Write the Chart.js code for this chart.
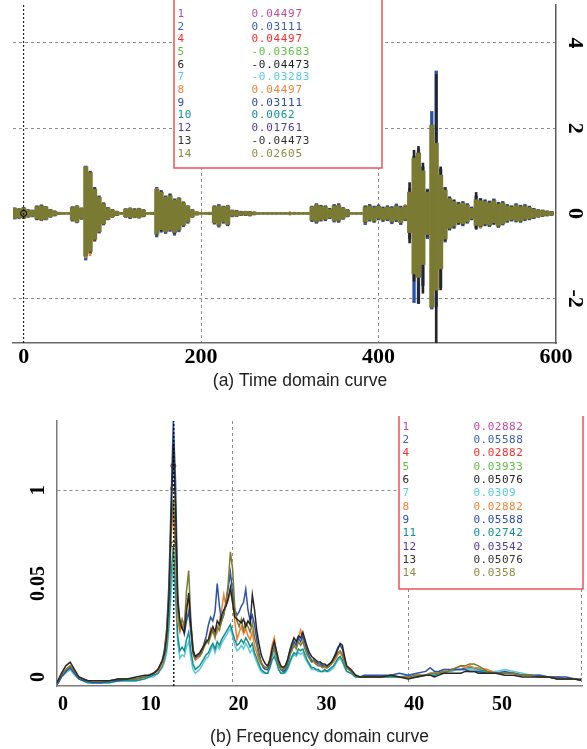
<!DOCTYPE html>
<html><head><meta charset="utf-8">
<script src="https://cdn.jsdelivr.net/npm/chart.js@4.4.0/dist/chart.umd.min.js"></script>
<style>
html,body{margin:0;padding:0;background:#fff;}
#wrap{position:relative;width:587px;height:749px;overflow:hidden;background:#fff;}
canvas{position:absolute;left:0;}
#c1{top:0;} #c2{top:416px;}
</style></head><body>
<div id="wrap"><canvas id="c1" width="587" height="416"></canvas><canvas id="c2" width="587" height="333"></canvas></div>
<script>
// ---------- (a) time domain ----------
const TITLE_A = "(a) Time domain curve";
const X1_TICKS = [0, 200, 400, 600];
const Y1_TICKS = [-2, 0, 2, 4];
const X1_MIN = -12, X1_MAX = 600, Y1_MIN = -3.04, Y1_MAX = 4.89;
const CURSOR_T = 0, CURSOR_T_Y = 0;
const T_BINS = [-10,-5,0,5,10,15,20,25,30,35,40,45,50,55,60,65,70,75,80,85,90,95,100,105,110,115,120,125,130,135,140,145,150,155,160,165,170,175,180,185,190,195,200,205,210,215,220,225,230,235,240,245,250,255,260,265,270,275,280,285,290,295,300,305,310,315,320,325,330,335,340,345,350,355,360,365,370,375,380,385,390,395,400,405,410,415,420,425,430,435,440,445,450,455,460,465,470,475,480,485,490,495,500,505,510,515,520,525,530,535,540,545,550,555,560,565,570,575,580,585,590,595];
const S14_HI = [
0.12,0.10,0.13,0.08,0.07,0.16,0.18,0.15,0.09,0.05,
0.03,0.02,0.02,0.14,0.17,0.12,1.10,0.96,0.57,0.38,
0.23,0.13,0.08,0.05,0.02,0.10,0.12,0.09,0.11,0.08,
0.02,0.03,0.57,0.50,0.38,0.42,0.31,0.35,0.25,0.17,
0.08,0.04,0.02,0.02,0.03,0.16,0.18,0.15,0.17,0.07,
0.06,0.04,0.05,0.04,0.03,0.02,0.02,0.02,0.02,0.02,
0.02,0.02,0.02,0.02,0.02,0.02,0.02,0.15,0.20,0.17,
0.16,0.10,0.18,0.19,0.12,0.08,0.02,0.02,0.02,0.15,
0.18,0.14,0.17,0.12,0.15,0.13,0.18,0.14,0.16,0.50,
1.30,1.42,1.00,0.50,2.07,1.65,0.90,0.55,0.35,0.28,
0.22,0.25,0.20,0.12,0.32,0.30,0.28,0.25,0.30,0.22,
0.25,0.18,0.15,0.20,0.16,0.18,0.14,0.10,0.08,0.07,0.05,0.04];
const S14_LO = [
-0.12,-0.10,-0.11,-0.08,-0.07,-0.13,-0.15,-0.14,-0.08,-0.05,
-0.03,-0.02,-0.02,-0.16,-0.20,-0.12,-1.00,-0.89,-0.61,-0.43,
-0.24,-0.14,-0.08,-0.05,-0.02,-0.08,-0.10,-0.09,-0.10,-0.07,
-0.02,-0.03,-0.49,-0.38,-0.43,-0.38,-0.45,-0.38,-0.28,-0.20,
-0.08,-0.04,-0.02,-0.02,-0.03,-0.22,-0.28,-0.20,-0.26,-0.07,
-0.06,-0.04,-0.04,-0.05,-0.03,-0.02,-0.02,-0.02,-0.02,-0.02,
-0.02,-0.02,-0.02,-0.02,-0.02,-0.02,-0.02,-0.16,-0.20,-0.15,
-0.14,-0.10,-0.17,-0.18,-0.12,-0.07,-0.02,-0.02,-0.02,-0.20,
-0.15,-0.18,-0.12,-0.16,-0.14,-0.20,-0.16,-0.22,-0.14,-0.45,
-1.42,-1.50,-1.20,-0.50,-2.20,-1.80,-1.30,-0.60,-0.35,-0.30,
-0.22,-0.25,-0.20,-0.12,-0.28,-0.30,-0.25,-0.28,-0.22,-0.30,
-0.24,-0.18,-0.15,-0.17,-0.18,-0.14,-0.13,-0.10,-0.08,-0.06,-0.05,-0.04];
const S6_HI = [
0.13,0.12,0.14,0.09,0.08,0.17,0.20,0.16,0.10,0.06,
0.03,0.02,0.02,0.15,0.18,0.13,1.05,0.98,0.60,0.40,
0.25,0.14,0.09,0.06,0.02,0.11,0.13,0.11,0.12,0.09,
0.02,0.03,0.55,0.52,0.40,0.45,0.33,0.36,0.27,0.18,
0.09,0.04,0.02,0.02,0.03,0.17,0.19,0.16,0.18,0.08,
0.07,0.05,0.05,0.05,0.04,0.02,0.02,0.02,0.02,0.02,
0.02,0.02,0.02,0.02,0.02,0.02,0.02,0.16,0.21,0.19,
0.17,0.12,0.20,0.21,0.13,0.09,0.02,0.02,0.02,0.17,
0.20,0.16,0.19,0.14,0.17,0.15,0.20,0.16,0.18,0.73,
1.49,1.58,1.19,0.55,1.90,3.27,1.10,0.60,0.38,0.31,
0.25,0.27,0.22,0.14,0.50,0.35,0.31,0.28,0.33,0.25,
0.27,0.20,0.17,0.22,0.18,0.20,0.16,0.12,0.09,0.08,0.06,0.05];
const S6_LO = [
-0.13,-0.12,-0.12,-0.09,-0.08,-0.15,-0.16,-0.15,-0.09,-0.06,
-0.03,-0.02,-0.02,-0.17,-0.21,-0.13,-1.00,-0.92,-0.64,-0.45,
-0.26,-0.15,-0.09,-0.06,-0.02,-0.09,-0.12,-0.10,-0.11,-0.08,
-0.02,-0.03,-0.52,-0.42,-0.45,-0.40,-0.48,-0.40,-0.30,-0.22,
-0.09,-0.04,-0.02,-0.02,-0.03,-0.24,-0.30,-0.22,-0.28,-0.08,
-0.07,-0.05,-0.05,-0.06,-0.04,-0.02,-0.02,-0.02,-0.02,-0.02,
-0.02,-0.02,-0.02,-0.02,-0.02,-0.02,-0.02,-0.18,-0.22,-0.17,
-0.16,-0.12,-0.19,-0.20,-0.13,-0.08,-0.02,-0.02,-0.02,-0.22,
-0.17,-0.20,-0.14,-0.18,-0.16,-0.22,-0.18,-0.24,-0.16,-0.70,
-1.60,-2.12,-1.88,-0.55,-2.00,-3.10,-1.80,-0.65,-0.38,-0.33,
-0.25,-0.28,-0.22,-0.14,-0.38,-0.32,-0.28,-0.30,-0.25,-0.32,
-0.26,-0.20,-0.17,-0.19,-0.20,-0.16,-0.15,-0.12,-0.09,-0.07,-0.06,-0.05];
const S2_HI = [
0.14,0.11,0.15,0.10,0.09,0.19,0.21,0.17,0.10,0.07,
0.03,0.02,0.02,0.17,0.19,0.14,1.12,1.00,0.62,0.42,
0.26,0.15,0.10,0.06,0.02,0.12,0.14,0.12,0.13,0.10,
0.02,0.03,0.62,0.55,0.42,0.47,0.35,0.38,0.28,0.19,
0.10,0.04,0.02,0.02,0.03,0.19,0.22,0.18,0.20,0.09,
0.08,0.06,0.06,0.05,0.04,0.02,0.02,0.02,0.02,0.02,
0.02,0.02,0.02,0.02,0.02,0.02,0.02,0.18,0.24,0.20,
0.19,0.13,0.22,0.24,0.15,0.10,0.02,0.02,0.02,0.19,
0.22,0.18,0.21,0.16,0.19,0.17,0.23,0.18,0.20,0.60,
1.35,1.50,1.10,0.58,2.40,3.35,1.05,0.62,0.40,0.33,
0.27,0.29,0.24,0.16,0.42,0.36,0.33,0.30,0.35,0.27,
0.29,0.22,0.19,0.24,0.20,0.22,0.18,0.13,0.10,0.09,0.07,0.05];
const S2_LO = [
-0.14,-0.12,-0.13,-0.10,-0.09,-0.16,-0.18,-0.16,-0.10,-0.07,
-0.03,-0.02,-0.02,-0.19,-0.23,-0.15,-1.10,-0.95,-0.66,-0.47,
-0.28,-0.16,-0.10,-0.06,-0.02,-0.10,-0.13,-0.11,-0.12,-0.09,
-0.02,-0.03,-0.56,-0.45,-0.48,-0.43,-0.52,-0.44,-0.32,-0.24,
-0.10,-0.04,-0.02,-0.02,-0.03,-0.26,-0.33,-0.24,-0.30,-0.09,
-0.08,-0.06,-0.06,-0.07,-0.04,-0.02,-0.02,-0.02,-0.02,-0.02,
-0.02,-0.02,-0.02,-0.02,-0.02,-0.02,-0.02,-0.20,-0.24,-0.19,
-0.18,-0.13,-0.21,-0.22,-0.15,-0.09,-0.02,-0.02,-0.02,-0.27,
-0.19,-0.22,-0.16,-0.20,-0.18,-0.25,-0.20,-0.27,-0.18,-0.60,
-2.10,-2.12,-1.70,-0.60,-2.25,-2.20,-1.75,-0.68,-0.40,-0.36,
-0.27,-0.30,-0.24,-0.16,-0.36,-0.34,-0.30,-0.32,-0.27,-0.34,
-0.28,-0.22,-0.19,-0.21,-0.22,-0.18,-0.16,-0.13,-0.10,-0.08,-0.07,-0.05];
const S8_HI = [
0.13,0.10,0.14,0.09,0.08,0.18,0.19,0.16,0.09,0.06,
0.03,0.02,0.02,0.16,0.18,0.13,1.00,0.95,0.60,0.40,
0.24,0.14,0.09,0.05,0.02,0.11,0.13,0.10,0.12,0.09,
0.02,0.03,0.59,0.52,0.40,0.44,0.33,0.37,0.26,0.18,
0.09,0.04,0.02,0.02,0.03,0.18,0.20,0.16,0.19,0.08,
0.07,0.05,0.05,0.05,0.04,0.02,0.02,0.02,0.02,0.02,
0.02,0.02,0.05,0.02,0.02,0.02,0.02,0.16,0.22,0.18,
0.17,0.11,0.20,0.21,0.13,0.09,0.02,0.02,0.02,0.16,
0.20,0.15,0.19,0.13,0.17,0.14,0.20,0.15,0.22,0.55,
1.40,1.52,1.05,0.52,2.05,1.75,0.95,0.58,0.37,0.30,
0.24,0.27,0.22,0.13,0.36,0.32,0.30,0.27,0.33,0.24,
0.27,0.19,0.16,0.21,0.17,0.19,0.15,0.11,0.09,0.08,0.06,0.04];
const S8_LO = [
-0.13,-0.11,-0.12,-0.09,-0.08,-0.14,-0.17,-0.15,-0.09,-0.06,
-0.03,-0.02,-0.02,-0.17,-0.22,-0.13,-1.05,-1.00,-0.66,-0.45,
-0.26,-0.15,-0.09,-0.05,-0.02,-0.09,-0.11,-0.10,-0.11,-0.08,
-0.02,-0.03,-0.52,-0.40,-0.46,-0.40,-0.48,-0.40,-0.30,-0.22,
-0.09,-0.04,-0.02,-0.02,-0.03,-0.25,-0.30,-0.22,-0.28,-0.08,
-0.07,-0.05,-0.05,-0.06,-0.04,-0.02,-0.02,-0.02,-0.02,-0.02,
-0.02,-0.02,-0.05,-0.02,-0.02,-0.02,-0.02,-0.17,-0.22,-0.17,
-0.15,-0.11,-0.19,-0.20,-0.13,-0.08,-0.02,-0.02,-0.02,-0.23,
-0.17,-0.20,-0.13,-0.18,-0.15,-0.22,-0.17,-0.24,-0.15,-0.50,
-1.50,-1.70,-1.45,-0.55,-2.10,-1.90,-1.80,-0.65,-0.37,-0.32,
-0.24,-0.27,-0.22,-0.13,-0.30,-0.36,-0.27,-0.30,-0.24,-0.33,
-0.26,-0.20,-0.16,-0.19,-0.20,-0.15,-0.14,-0.11,-0.09,-0.07,-0.06,-0.05];
const LEG_A_NAMES = ["1","2","4","5","6","7","8","9","10","12","13","14"];
const LEG_A_VALUES = [0.04497,0.03111,0.04497,-0.03683,-0.04473,-0.03283,0.04497,0.03111,0.0062,0.01761,-0.04473,0.02605];

// ---------- (b) frequency domain ----------
const TITLE_B = "(b) Frequency domain curve";
const X2_TICKS = [0, 10, 20, 30, 40, 50];
const Y2_TICKS = [0, 0.05, 0.1];
const Y2_LABELS = ["0", "0.05", "1"];
const X2_MIN = 0, X2_MAX = 59.8, Y2_MIN = -0.0048, Y2_MAX = 0.137;
const CURSOR_F = 13.3;
const CURSOR_F_MARKS = [0.113, 0.101, 0.071];
const FREQ = [0,0.5,1,1.5,2,2.5,3,3.5,4,5,6,7,8,9,10,10.5,11,11.5,12,
12.25,12.5,12.75,13,13.25,13.5,13.75,14,14.25,14.5,14.75,15,15.25,15.5,15.75,16,16.25,16.5,16.75,17,17.25,17.5,17.75,18,18.25,18.5,18.75,19,19.25,19.5,19.75,20,20.25,20.5,20.75,21,21.25,21.5,21.75,22,22.25,22.5,22.75,23,23.25,23.5,23.75,24,24.25,24.5,24.75,25,25.25,25.5,25.75,26,26.25,26.5,26.75,27,27.25,27.5,27.75,28,28.25,28.5,28.75,29,29.25,29.5,29.75,30,30.25,30.5,30.75,31,31.25,31.5,31.75,32,32.25,32.5,32.75,33,
33.5,34,34.5,35,36,37,38,39,40,41,42,42.5,43,43.5,44,44.5,45,45.5,46,46.5,47,47.5,48,49,50,51,52,53,54,55,56,57,58,59,60];
const F14 = [-0.003,0.001,0.004,0.006,0.003,0.000,-0.001,-0.002,-0.002,-0.002,-0.002,-0.001,-0.001,-0.001,0.000,0.001,0.002,0.004,0.008,
0.014,0.024,0.045,0.080,0.095,0.072,0.036,0.026,0.031,0.027,0.046,0.057,0.030,0.015,0.010,0.012,0.011,0.013,0.016,0.020,0.018,0.022,0.025,0.021,0.027,0.025,0.030,0.033,0.040,0.050,0.067,0.058,0.037,0.030,0.027,0.031,0.025,0.029,0.027,0.024,0.029,0.021,0.017,0.011,0.008,0.006,0.005,0.005,0.008,0.013,0.015,0.011,0.007,0.004,0.004,0.005,0.008,0.012,0.014,0.017,0.015,0.019,0.017,0.019,0.015,0.012,0.010,0.008,0.009,0.007,0.006,0.006,0.005,0.006,0.005,0.006,0.007,0.009,0.011,0.013,0.014,0.012,0.008,0.005,
0.003,0.001,0.000,0.000,0.000,0.000,0.001,0.000,0.000,0.001,0.001,0.002,0.002,0.002,0.003,0.003,0.004,0.005,0.006,0.006,0.007,0.007,0.006,0.003,0.002,0.002,0.002,0.001,0.001,0.000,0.000,-0.001,-0.001,-0.001,-0.002];
const F6 = [-0.003,0.002,0.006,0.008,0.004,0.000,-0.001,-0.002,-0.002,-0.002,-0.002,-0.001,-0.001,0.000,0.001,0.001,0.002,0.004,0.009,
0.013,0.022,0.042,0.085,0.125,0.090,0.040,0.030,0.026,0.024,0.035,0.045,0.028,0.014,0.011,0.012,0.013,0.015,0.017,0.019,0.020,0.024,0.027,0.024,0.030,0.028,0.033,0.036,0.038,0.042,0.048,0.040,0.032,0.031,0.030,0.029,0.031,0.027,0.030,0.028,0.044,0.036,0.025,0.018,0.012,0.009,0.007,0.006,0.009,0.015,0.019,0.014,0.009,0.006,0.005,0.006,0.009,0.014,0.018,0.021,0.019,0.022,0.021,0.024,0.020,0.016,0.013,0.011,0.010,0.009,0.008,0.008,0.007,0.007,0.006,0.007,0.008,0.010,0.012,0.015,0.018,0.017,0.011,0.006,
0.004,0.001,0.000,0.000,0.000,0.000,0.001,0.000,-0.001,0.000,0.001,0.001,0.000,0.001,0.002,0.002,0.002,0.002,0.002,0.003,0.003,0.003,0.002,0.002,0.002,0.001,0.001,0.000,0.000,0.000,0.000,-0.001,-0.001,-0.001,-0.002];
const F2 = [-0.004,0.000,0.003,0.005,0.002,-0.001,-0.002,-0.002,-0.003,-0.003,-0.002,-0.002,-0.001,-0.001,0.000,0.001,0.002,0.004,0.009,
0.015,0.026,0.050,0.095,0.137,0.105,0.045,0.028,0.027,0.023,0.030,0.035,0.024,0.013,0.010,0.011,0.012,0.014,0.018,0.022,0.028,0.032,0.030,0.035,0.050,0.038,0.030,0.034,0.040,0.048,0.056,0.045,0.036,0.033,0.035,0.038,0.040,0.047,0.036,0.030,0.033,0.028,0.020,0.013,0.008,0.005,0.004,0.004,0.007,0.012,0.016,0.012,0.007,0.004,0.003,0.004,0.007,0.011,0.016,0.019,0.017,0.021,0.019,0.022,0.018,0.014,0.011,0.009,0.009,0.008,0.007,0.007,0.006,0.006,0.005,0.006,0.008,0.010,0.013,0.016,0.017,0.015,0.010,0.005,
0.003,0.001,0.000,0.001,0.001,0.001,0.001,0.002,0.001,0.002,0.003,0.005,0.003,0.003,0.004,0.004,0.004,0.004,0.004,0.004,0.003,0.003,0.003,0.002,0.002,0.003,0.002,0.001,0.001,0.001,0.000,0.000,0.000,-0.001,-0.001];
const F8 = [-0.003,0.001,0.004,0.006,0.003,0.000,-0.001,-0.002,-0.002,-0.002,-0.002,-0.001,-0.001,-0.001,0.000,0.001,0.002,0.003,0.007,
0.012,0.020,0.040,0.075,0.090,0.065,0.030,0.024,0.028,0.026,0.038,0.042,0.025,0.012,0.009,0.010,0.011,0.013,0.016,0.018,0.020,0.026,0.024,0.022,0.024,0.030,0.036,0.044,0.038,0.041,0.046,0.040,0.030,0.020,0.024,0.027,0.023,0.026,0.022,0.020,0.024,0.017,0.013,0.009,0.007,0.006,0.005,0.006,0.010,0.017,0.021,0.013,0.008,0.005,0.005,0.006,0.009,0.013,0.016,0.018,0.017,0.021,0.025,0.020,0.016,0.012,0.010,0.008,0.008,0.007,0.006,0.006,0.006,0.005,0.005,0.006,0.007,0.008,0.010,0.012,0.013,0.011,0.008,0.005,
0.003,0.001,0.000,0.000,0.000,0.000,0.001,0.000,0.000,0.001,0.001,0.002,0.002,0.002,0.003,0.003,0.004,0.005,0.006,0.005,0.006,0.005,0.005,0.004,0.002,0.002,0.002,0.001,0.001,0.000,0.000,0.000,-0.001,-0.001,-0.002];
const F11 = [-0.004,0.000,0.003,0.005,0.002,-0.001,-0.002,-0.003,-0.003,-0.003,-0.003,-0.002,-0.002,-0.002,-0.001,0.000,0.001,0.002,0.006,
0.010,0.016,0.030,0.055,0.070,0.050,0.022,0.014,0.016,0.014,0.020,0.024,0.014,0.007,0.004,0.005,0.006,0.008,0.010,0.012,0.013,0.016,0.018,0.015,0.019,0.017,0.020,0.022,0.024,0.026,0.028,0.024,0.020,0.017,0.018,0.020,0.018,0.021,0.019,0.016,0.018,0.013,0.010,0.007,0.004,0.003,0.002,0.002,0.005,0.009,0.011,0.008,0.004,0.002,0.002,0.003,0.005,0.008,0.011,0.013,0.012,0.015,0.014,0.015,0.012,0.009,0.007,0.005,0.005,0.004,0.004,0.003,0.003,0.004,0.003,0.004,0.005,0.006,0.008,0.010,0.011,0.009,0.006,0.003,
0.002,0.000,0.000,0.000,0.000,0.000,0.000,0.000,0.000,0.000,0.001,0.001,0.001,0.002,0.002,0.003,0.004,0.004,0.004,0.005,0.005,0.005,0.004,0.003,0.002,0.002,0.002,0.001,0.001,0.000,0.000,-0.001,-0.001,-0.001,-0.002];
const F7 = [-0.004,0.000,0.002,0.004,0.001,-0.001,-0.002,-0.003,-0.003,-0.003,-0.003,-0.002,-0.002,-0.002,-0.001,0.000,0.000,0.002,0.005,
0.008,0.013,0.025,0.045,0.060,0.042,0.018,0.010,0.012,0.011,0.016,0.019,0.010,0.004,0.002,0.003,0.004,0.006,0.008,0.010,0.011,0.014,0.017,0.013,0.017,0.015,0.018,0.020,0.022,0.024,0.026,0.022,0.017,0.014,0.015,0.017,0.015,0.018,0.016,0.013,0.015,0.011,0.008,0.005,0.003,0.002,0.002,0.002,0.006,0.011,0.013,0.009,0.004,0.002,0.002,0.002,0.004,0.007,0.010,0.012,0.011,0.013,0.012,0.013,0.010,0.008,0.006,0.004,0.004,0.004,0.003,0.003,0.003,0.003,0.003,0.003,0.004,0.005,0.007,0.009,0.010,0.008,0.005,0.003,
0.002,0.000,0.000,0.000,0.000,0.000,0.000,0.000,0.001,0.001,0.001,0.001,0.002,0.002,0.003,0.003,0.003,0.004,0.004,0.004,0.004,0.004,0.003,0.003,0.003,0.004,0.003,0.002,0.001,0.001,0.000,0.000,-0.001,-0.001,-0.002];
const LEG_B_NAMES = ["1","2","4","5","6","7","8","9","11","12","13","14"];
const LEG_B_VALUES = [0.02882,0.05588,0.02882,0.03933,0.05076,0.0309,0.02882,0.05588,0.02742,0.03542,0.05076,0.0358];

// ---------- styles ----------
const LEG_COLORS = ['#c8489e','#3a5fb5','#ff2b2b','#62c043','#1e1e1e','#58c8e0','#f5823a','#2a4ca8','#12908c','#4b3c9e','#333333','#8c8c44'];
const C_OLIVE = '#7b7a33', C_BLACK = '#262626', C_BLUE = '#2c52a8', C_ORANGE = '#f07f2e', C_TEAL = '#12908c', C_CYAN = '#5cc8da';
const SERIF = 'Liberation Serif';
const GRID_C = '#8c8c8c';

function envelope(label, hi, lo, color, width) {
  return { type: 'bar', label, data: T_BINS.map((t, i) => ({ x: t, y: [lo[i], hi[i]] })),
    backgroundColor: color, borderWidth: 0, barPercentage: width, categoryPercentage: 1, grouped: false };
}
function spec(label, ys, color) {
  return { label, data: FREQ.map((f, i) => ({ x: f, y: ys[i] })), borderColor: color,
    borderWidth: 1.5, pointRadius: 0, fill: false, tension: 0 };
}
function noPad(s) { s.paddingTop = 0; s.paddingBottom = 0; s.paddingLeft = 0; s.paddingRight = 0; }
function tablePlugin(id, cfg) {
  return { id, afterDraw(chart) {
    const ctx = chart.ctx; ctx.save();
    ctx.fillStyle = '#fff'; ctx.fillRect(cfg.x, cfg.y, cfg.w, cfg.h);
    ctx.strokeStyle = '#f0505a'; ctx.lineWidth = 1.5; ctx.strokeRect(cfg.x, cfg.y, cfg.w, cfg.h);
    ctx.font = cfg.font; try { ctx.letterSpacing = cfg.spacing; } catch (e) {}
    ctx.textBaseline = 'middle'; ctx.textAlign = 'left';
    cfg.names.forEach((n, i) => {
      const y = cfg.row0 + i * cfg.step;
      ctx.fillStyle = LEG_COLORS[i];
      ctx.fillText(n, cfg.nameX, y);
      ctx.fillText(String(cfg.values[i]), cfg.valueX, y);
    });
    ctx.restore();
  }};
}
const frameRight = { id: 'frameRight', afterDatasetsDraw(chart) {
  const { ctx, chartArea: a } = chart; ctx.save();
  ctx.strokeStyle = GRID_C; ctx.lineWidth = 1; ctx.setLineDash([3, 3]);
  ctx.beginPath(); ctx.moveTo(a.right - 0.5, a.top); ctx.lineTo(a.right - 0.5, a.bottom); ctx.stroke();
  ctx.restore();
}};

// ---------- chart (a) ----------
new Chart(document.getElementById('c1'), {
  type: 'bar',
  data: { datasets: [
    { type: 'line', label: 'cursor', data: [{ x: CURSOR_T, y: Y1_MIN }, { x: CURSOR_T, y: Y1_MAX }],
      borderColor: '#000', borderWidth: 1, borderDash: [2, 2], pointRadius: 0, order: -2 },
    { type: 'line', label: 'mark', data: [{ x: CURSOR_T, y: CURSOR_T_Y }], showLine: false,
      pointRadius: 3, borderColor: '#000', borderWidth: 1, backgroundColor: 'rgba(0,0,0,0)', order: -1 },
    envelope('14', S14_HI, S14_LO, C_OLIVE, 1),
    envelope('6', S6_HI, S6_LO, C_BLACK, 0.6),
    envelope('8', S8_HI, S8_LO, C_ORANGE, 0.5),
    envelope('2', S2_HI, S2_LO, C_BLUE, 0.75)
  ]},
  options: {
    responsive: false, animation: false, devicePixelRatio: 1,
    layout: { padding: { left: 13, right: 0, top: 0, bottom: 0 } },
    plugins: { legend: { display: false }, tooltip: { enabled: false },
      title: { display: true, position: 'bottom', text: TITLE_A, color: '#222',
        font: { family: 'Liberation Sans', size: 17.5, weight: 'normal', lineHeight: 1.2 },
        padding: { top: 4, bottom: 24.5 } } },
    scales: {
      x: { type: 'linear', min: X1_MIN, max: X1_MAX, offset: false,
        afterBuildTicks: s => { s.ticks = X1_TICKS.map(v => ({ value: v })); },
        afterFit: s => { s.height = 23.5; noPad(s); },
        grid: { offset: false, drawTicks: false, lineWidth: 1,
          color: c => (c.tick && (c.tick.value === 200 || c.tick.value === 400)) ? GRID_C : 'rgba(0,0,0,0)' },
        border: { display: true, color: '#6a6a6a', width: 1.5, dash: [3, 3] },
        ticks: { color: '#000', padding: 3, maxRotation: 0, autoSkip: false,
          font: { family: SERIF, weight: 'bold', size: 22, lineHeight: 1 } } },
      y: { position: 'right', min: Y1_MIN, max: Y1_MAX,
        afterBuildTicks: s => { s.ticks = Y1_TICKS.map(v => ({ value: v })); },
        afterFit: s => { s.width = 31; noPad(s); },
        grid: { drawTicks: false, lineWidth: 1,
          color: c => (c.tick && c.tick.value !== 0) ? GRID_C : 'rgba(0,0,0,0)' },
        border: { display: true, color: '#5a5a5a', width: 1.5, dash: [3, 3] },
        ticks: { color: '#000', padding: 10, minRotation: -90, maxRotation: -90, crossAlign: 'center',
          font: { family: SERIF, weight: 'bold', size: 22, lineHeight: 1 } } }
    }
  },
  plugins: [tablePlugin('tableA', { x: 174, y: -5, w: 208, h: 173, names: LEG_A_NAMES, values: LEG_A_VALUES,
    row0: 14, step: 12.7, nameX: 177.5, valueX: 251.5, font: '11px "DejaVu Sans Mono"', spacing: '0.7px' })]
});

// ---------- chart (b) ----------
new Chart(document.getElementById('c2'), {
  type: 'line',
  data: { datasets: [
    { label: 'cursor', data: [{ x: CURSOR_F, y: Y2_MIN }, { x: CURSOR_F, y: Y2_MAX }],
      borderColor: '#000', borderWidth: 1.3, borderDash: [2, 2], pointRadius: 0, order: -2 },
    { label: 'marks', data: CURSOR_F_MARKS.map(v => ({ x: CURSOR_F - 0.05, y: v })), showLine: false,
      pointRadius: 2.5, borderColor: '#333', borderWidth: 1, backgroundColor: 'rgba(0,0,0,0)', order: -1 },
    spec('6', F6, C_BLACK),
    spec('14', F14, C_OLIVE),
    spec('2', F2, C_BLUE),
    spec('8', F8, C_ORANGE),
    spec('11', F11, C_TEAL),
    spec('7', F7, C_CYAN)
  ]},
  options: {
    responsive: false, animation: false, devicePixelRatio: 1,
    layout: { padding: { left: 0, right: 2, top: 2, bottom: 0 } },
    plugins: { legend: { display: false }, tooltip: { enabled: false },
      title: { display: true, position: 'bottom', fullSize: false, text: TITLE_B, color: '#222',
        font: { family: 'Liberation Sans', size: 17.5, weight: 'normal', lineHeight: 1.2 },
        padding: { top: 10.5, bottom: 1.5 } } },
    scales: {
      x: { type: 'linear', min: X2_MIN, max: X2_MAX,
        afterBuildTicks: s => { s.ticks = X2_TICKS.map(v => ({ value: v })); },
        afterFit: s => { s.height = 30; noPad(s); },
        grid: { drawTicks: false, lineWidth: 1,
          color: c => (c.tick && (c.tick.value === 20 || c.tick.value === 40)) ? GRID_C : 'rgba(0,0,0,0)' },
        border: { display: true, color: '#7a7a7a', width: 1.5, dash: [3, 3] },
        ticks: { color: '#000', padding: 8.5, labelOffset: 6, maxRotation: 0, autoSkip: false,
          font: { family: SERIF, weight: 'bold', size: 20, lineHeight: 1 } } },
      y: { min: Y2_MIN, max: Y2_MAX,
        afterBuildTicks: s => { s.ticks = Y2_TICKS.map(v => ({ value: v })); },
        afterFit: s => { s.width = 57; noPad(s); },
        grid: { drawTicks: false, lineWidth: 1,
          color: c => (c.tick && c.tick.value === 0.1) ? GRID_C : 'rgba(0,0,0,0)' },
        border: { display: true, color: '#7a7a7a', width: 1.5, dash: [3, 3] },
        ticks: { color: '#000', padding: 1, minRotation: 90, maxRotation: 90, crossAlign: 'center',
          callback: (v, i) => Y2_LABELS[i],
          font: { family: SERIF, weight: 'bold', size: 20, lineHeight: 1 } } }
    }
  },
  plugins: [frameRight, tablePlugin('tableB', { x: 399, y: -5, w: 184, h: 178, names: LEG_B_NAMES, values: LEG_B_VALUES,
    row0: 10.7, step: 13.33, nameX: 402.5, valueX: 473.5, font: '11px "DejaVu Sans Mono"', spacing: '0.5px' })]
});
</script>
</body></html>
